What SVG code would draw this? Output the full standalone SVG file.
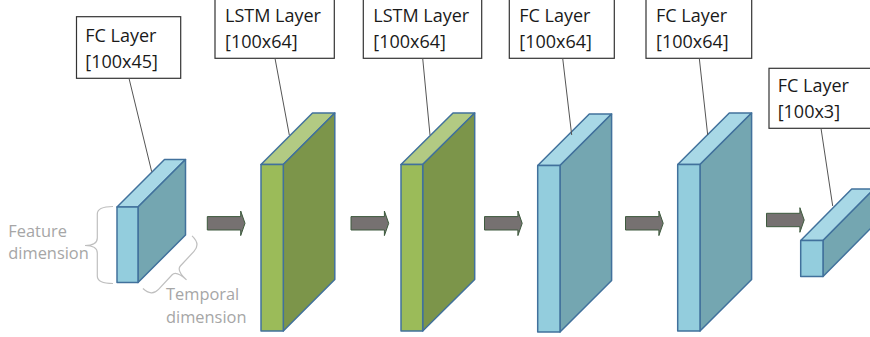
<svg xmlns="http://www.w3.org/2000/svg" width="870" height="337" viewBox="0 0 870 337">
<style>
  .lbl { fill: #ffffff; stroke: #333333; stroke-width: 1.2; }
  .lt { font-family: "Open Sans", "Liberation Sans", sans-serif; font-size: 18px; fill: #1a1a1a; }
  .gt { font-family: "Open Sans", "Liberation Sans", sans-serif; font-size: 16.4px; fill: #a6a6a6; }
  .brace { fill: none; stroke: #bfbfbf; stroke-width: 1.2; }
  .leader { stroke: #555555; stroke-width: 1; fill: none; }
  .arrow { fill: #767171; stroke: #3e5b3e; stroke-width: 1; }
  .cube path { stroke: #41719c; stroke-width: 1.5; stroke-linejoin: round; }
  .blue .front { fill: #93cddd; }
  .blue .top { fill: #a8d8e6; }
  .blue .side { fill: #74a6b1; }
  .green .front { fill: #9bbb59; }
  .green .top { fill: #b2ca83; }
  .green .side { fill: #7c954a; }
</style>
<defs>
  <path id="arr" class="arrow" d="M0,-6.7 H33.4 V-12.3 L37.7,0 L33.4,12.3 V6.7 H0 Z"/>
</defs>
<rect x="0" y="0" width="870" height="337" fill="#ffffff"/>

<g id="layer-fc-1">
  <g class="cube blue">
    <path class="top" d="M117,207 H138 L185.5,159.5 H164.5 Z"/>
    <path class="side" d="M138,207 L185.5,159.5 V235 L138,282.5 Z"/>
    <path class="front" d="M117,207 H138 V282.5 H117 Z"/>
  </g>
  <rect class="lbl" x="76.5" y="16.7" width="104.2" height="61.6"/>
  <text class="lt" x="85.3" y="42.3">FC Layer</text>
  <text class="lt" x="85.3" y="67.8">[100x45]</text>
</g>

<g id="feature-dimension">
  <path class="brace" d="M113,206.5 Q97.3,206.5 97.3,214 V238 Q97.3,245.5 85,245.5 Q97.3,245.5 97.3,253 V276 Q97.3,283.5 113,283.5"/>
  <text class="gt" x="8.3" y="237">Feature</text>
  <text class="gt" x="8.3" y="258.5">dimension</text>
</g>

<g id="temporal-dimension">
  <path class="brace" transform="translate(151.7,296.7) rotate(-47)" d="M0,-12 Q0,0 10,0 L30,0 Q36,0 36,14 Q36,0 42,0 L62,0 Q72,0 72,-12"/>
  <text class="gt" x="166" y="300">Temporal</text>
  <text class="gt" x="166" y="322.5">dimension</text>
</g>

<g id="layer-lstm-1">
  <g class="cube green">
    <path class="top" d="M261,164.5 H283.3 L334.8,113 H312.5 Z"/>
    <path class="side" d="M283.3,164.5 L334.8,113 V279.5 L283.3,331 Z"/>
    <path class="front" d="M261,164.5 H283.3 V331 H261 Z"/>
  </g>
  <rect class="lbl" x="215" y="-4" width="119.3" height="62.3"/>
  <text class="lt" x="225" y="22.3">LSTM Layer</text>
  <text class="lt" x="225" y="47.8">[100x64]</text>
</g>

<g id="layer-lstm-2">
  <g class="cube green">
    <path class="top" d="M401,164.5 H422.7 L474.7,113 H453 Z"/>
    <path class="side" d="M422.7,164.5 L474.7,113 V279.5 L422.7,331 Z"/>
    <path class="front" d="M401,164.5 H422.7 V331 H401 Z"/>
  </g>
  <rect class="lbl" x="363.3" y="-4" width="118.4" height="62.3"/>
  <text class="lt" x="373.3" y="22.3">LSTM Layer</text>
  <text class="lt" x="373.3" y="47.8">[100x64]</text>
</g>

<g id="layer-fc-3">
  <g class="cube blue">
    <path class="top" d="M537.7,165.5 H560 L611.6,114 H589.3 Z"/>
    <path class="side" d="M560,165.5 L611.6,114 V280.5 L560,332 Z"/>
    <path class="front" d="M537.7,165.5 H560 V332 H537.7 Z"/>
  </g>
  <rect class="lbl" x="509.3" y="-4" width="105" height="62.3"/>
  <text class="lt" x="519.3" y="22.3">FC Layer</text>
  <text class="lt" x="519.3" y="47.8">[100x64]</text>
</g>

<g id="layer-fc-4">
  <g class="cube blue">
    <path class="top" d="M677.7,164.5 H700 L751.6,113 H729.3 Z"/>
    <path class="side" d="M700,164.5 L751.6,113 V279.5 L700,331 Z"/>
    <path class="front" d="M677.7,164.5 H700 V331 H677.7 Z"/>
  </g>
  <rect class="lbl" x="646" y="-4" width="105.7" height="62.3"/>
  <text class="lt" x="656" y="22.3">FC Layer</text>
  <text class="lt" x="656" y="47.8">[100x64]</text>
</g>

<g id="layer-fc-5">
  <g class="cube blue">
    <path class="top" d="M800.7,240.5 H823 L874,189 H851.7 Z"/>
    <path class="side" d="M823,240.5 L874,189 V225 L823,276.5 Z"/>
    <path class="front" d="M800.7,240.5 H823 V276.5 H800.7 Z"/>
  </g>
  <rect class="lbl" x="769" y="68.3" width="106" height="60"/>
  <text class="lt" x="777.7" y="92.3">FC Layer</text>
  <text class="lt" x="777.7" y="117.8">[100x3]</text>
</g>

<g id="connectors">
  <line class="leader" x1="129" y1="78.3" x2="151.7" y2="171.7"/>
  <line class="leader" x1="275" y1="58.3" x2="289.3" y2="135"/>
  <line class="leader" x1="422.7" y1="58.3" x2="430" y2="135"/>
  <line class="leader" x1="562.7" y1="58.3" x2="571.7" y2="135"/>
  <line class="leader" x1="699.3" y1="58.3" x2="707.7" y2="135"/>
  <line class="leader" x1="821" y1="128.3" x2="832.7" y2="206"/>
  <use href="#arr" x="207.3" y="223.3"/>
  <use href="#arr" x="351" y="223.3"/>
  <use href="#arr" x="484.5" y="223.3"/>
  <use href="#arr" x="625.5" y="223.3"/>
  <use href="#arr" x="766.5" y="220"/>
</g>
</svg>
